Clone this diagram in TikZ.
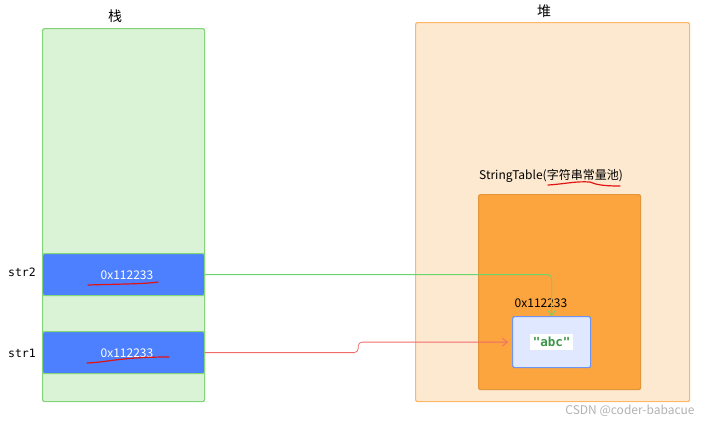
\documentclass[tikz,border=0pt]{standalone}
\usepackage{fontspec}
\setmainfont{Noto Sans CJK SC}
\setmonofont{DejaVu Sans Mono}
\usepackage{tikz}
\usetikzlibrary{
    arrows.meta,
    positioning
}

\definecolor{stackfill}{RGB}{218,242,214}
\definecolor{stackline}{RGB}{130,214,120}
\definecolor{heapfill}{RGB}{253,232,208}
\definecolor{heapline}{RGB}{255,182,102}
\definecolor{slotfill}{RGB}{77,128,255}
\definecolor{poolfill}{RGB}{252,165,62}
\definecolor{poolline}{RGB}{226,150,60}
\definecolor{objfill}{RGB}{224,232,255}
\definecolor{objline}{RGB}{110,148,240}
\definecolor{abcgreen}{RGB}{60,150,72}
\definecolor{ptrgreen}{RGB}{108,212,108}
\definecolor{ptrred}{RGB}{242,107,107}
\definecolor{inkred}{RGB}{225,20,20}

\tikzset{
    region/.style={draw, line width=1.2pt, rounded corners=2pt, anchor=north west, inner sep=0pt},
    slot/.style={region, fill=slotfill, draw=stackline, minimum width=162pt, minimum height=42pt},
    addr/.style={font=\fontsize{12}{14}\selectfont},
    varname/.style={font=\ttfamily\fontsize{11.5}{14}\selectfont},
    pointer/.style={line width=0.8pt, -{Straight Barb[length=5pt,width=8pt]}, rounded corners=4pt}
}

\begin{document}
\begin{tikzpicture}[x=1pt, y=-1pt]
        \useasboundingbox (0,0) rectangle (712,424);

        % Define the stack
        \node[region, fill=stackfill, draw=stackline, minimum width=162pt, minimum height=373pt] (stack) at (42,28) {};
        \node[font=\fontsize{14}{16}\selectfont] (stacktitle) at (115,16) {栈};

        % Stack slots
        \node[slot] (str2) at (42,253) {};
        \node[addr, text=white] (str2val) at (127,275) {0x112233};
        \node[varname] (str2name) at (22,272) {str2};

        \node[slot] (str1) at (42,331) {};
        \node[addr, text=white] (str1val) at (127,353) {0x112233};
        \node[varname] (str1name) at (22,353) {str1};

        % Define the heap
        \node[region, fill=heapfill, draw=heapline, minimum width=274pt, minimum height=379pt] (heap) at (415,22) {};
        \node[font=\fontsize{14}{16}\selectfont] (heaptitle) at (544,11) {堆};

        % String table
        \node[addr] (pooltitle) at (551,176) {StringTable(字符串常量池)};
        \node[region, fill=poolfill, draw=poolline, minimum width=162pt, minimum height=195pt] (pool) at (478,194) {};

        % The string object
        \node[region, fill=objfill, draw=objline, minimum width=78pt, minimum height=51pt] (abc) at (512,316) {};
        \node[fill=white, text=abcgreen, font=\ttfamily\bfseries\fontsize{12.5}{14}\selectfont, inner sep=3pt] (abctext) at (abc.center) {"abc"};
        \node[addr] (heapaddr) at (541,303) {0x112233};

        % Pointers
        \draw[pointer, draw=ptrgreen] (str2.east) -| (abc.north);
        \draw[pointer, draw=ptrred] (str1.east) -- ++(153,0) |- ([xshift=-4pt]abc.west);

        % Red marks
        \draw[inkred, line width=1.2pt, line cap=round] (88,285) .. controls (120,284) and (145,284) .. (158,282);
        \draw[inkred, line width=1.2pt, line cap=round] (87,363) .. controls (110,362) and (120,357) .. (169,357);
        \draw[inkred, line width=1.2pt, line cap=round] (548,185) .. controls (565,184) and (575,181) .. (590,182) .. controls (595,184) and (600,186) .. (620,186);

        % Watermark
        \node[text=gray!60, font=\fontsize{12}{14}\selectfont] (mark) at (630,411) {CSDN @coder-babacue};
    \end{tikzpicture}
\end{document}
